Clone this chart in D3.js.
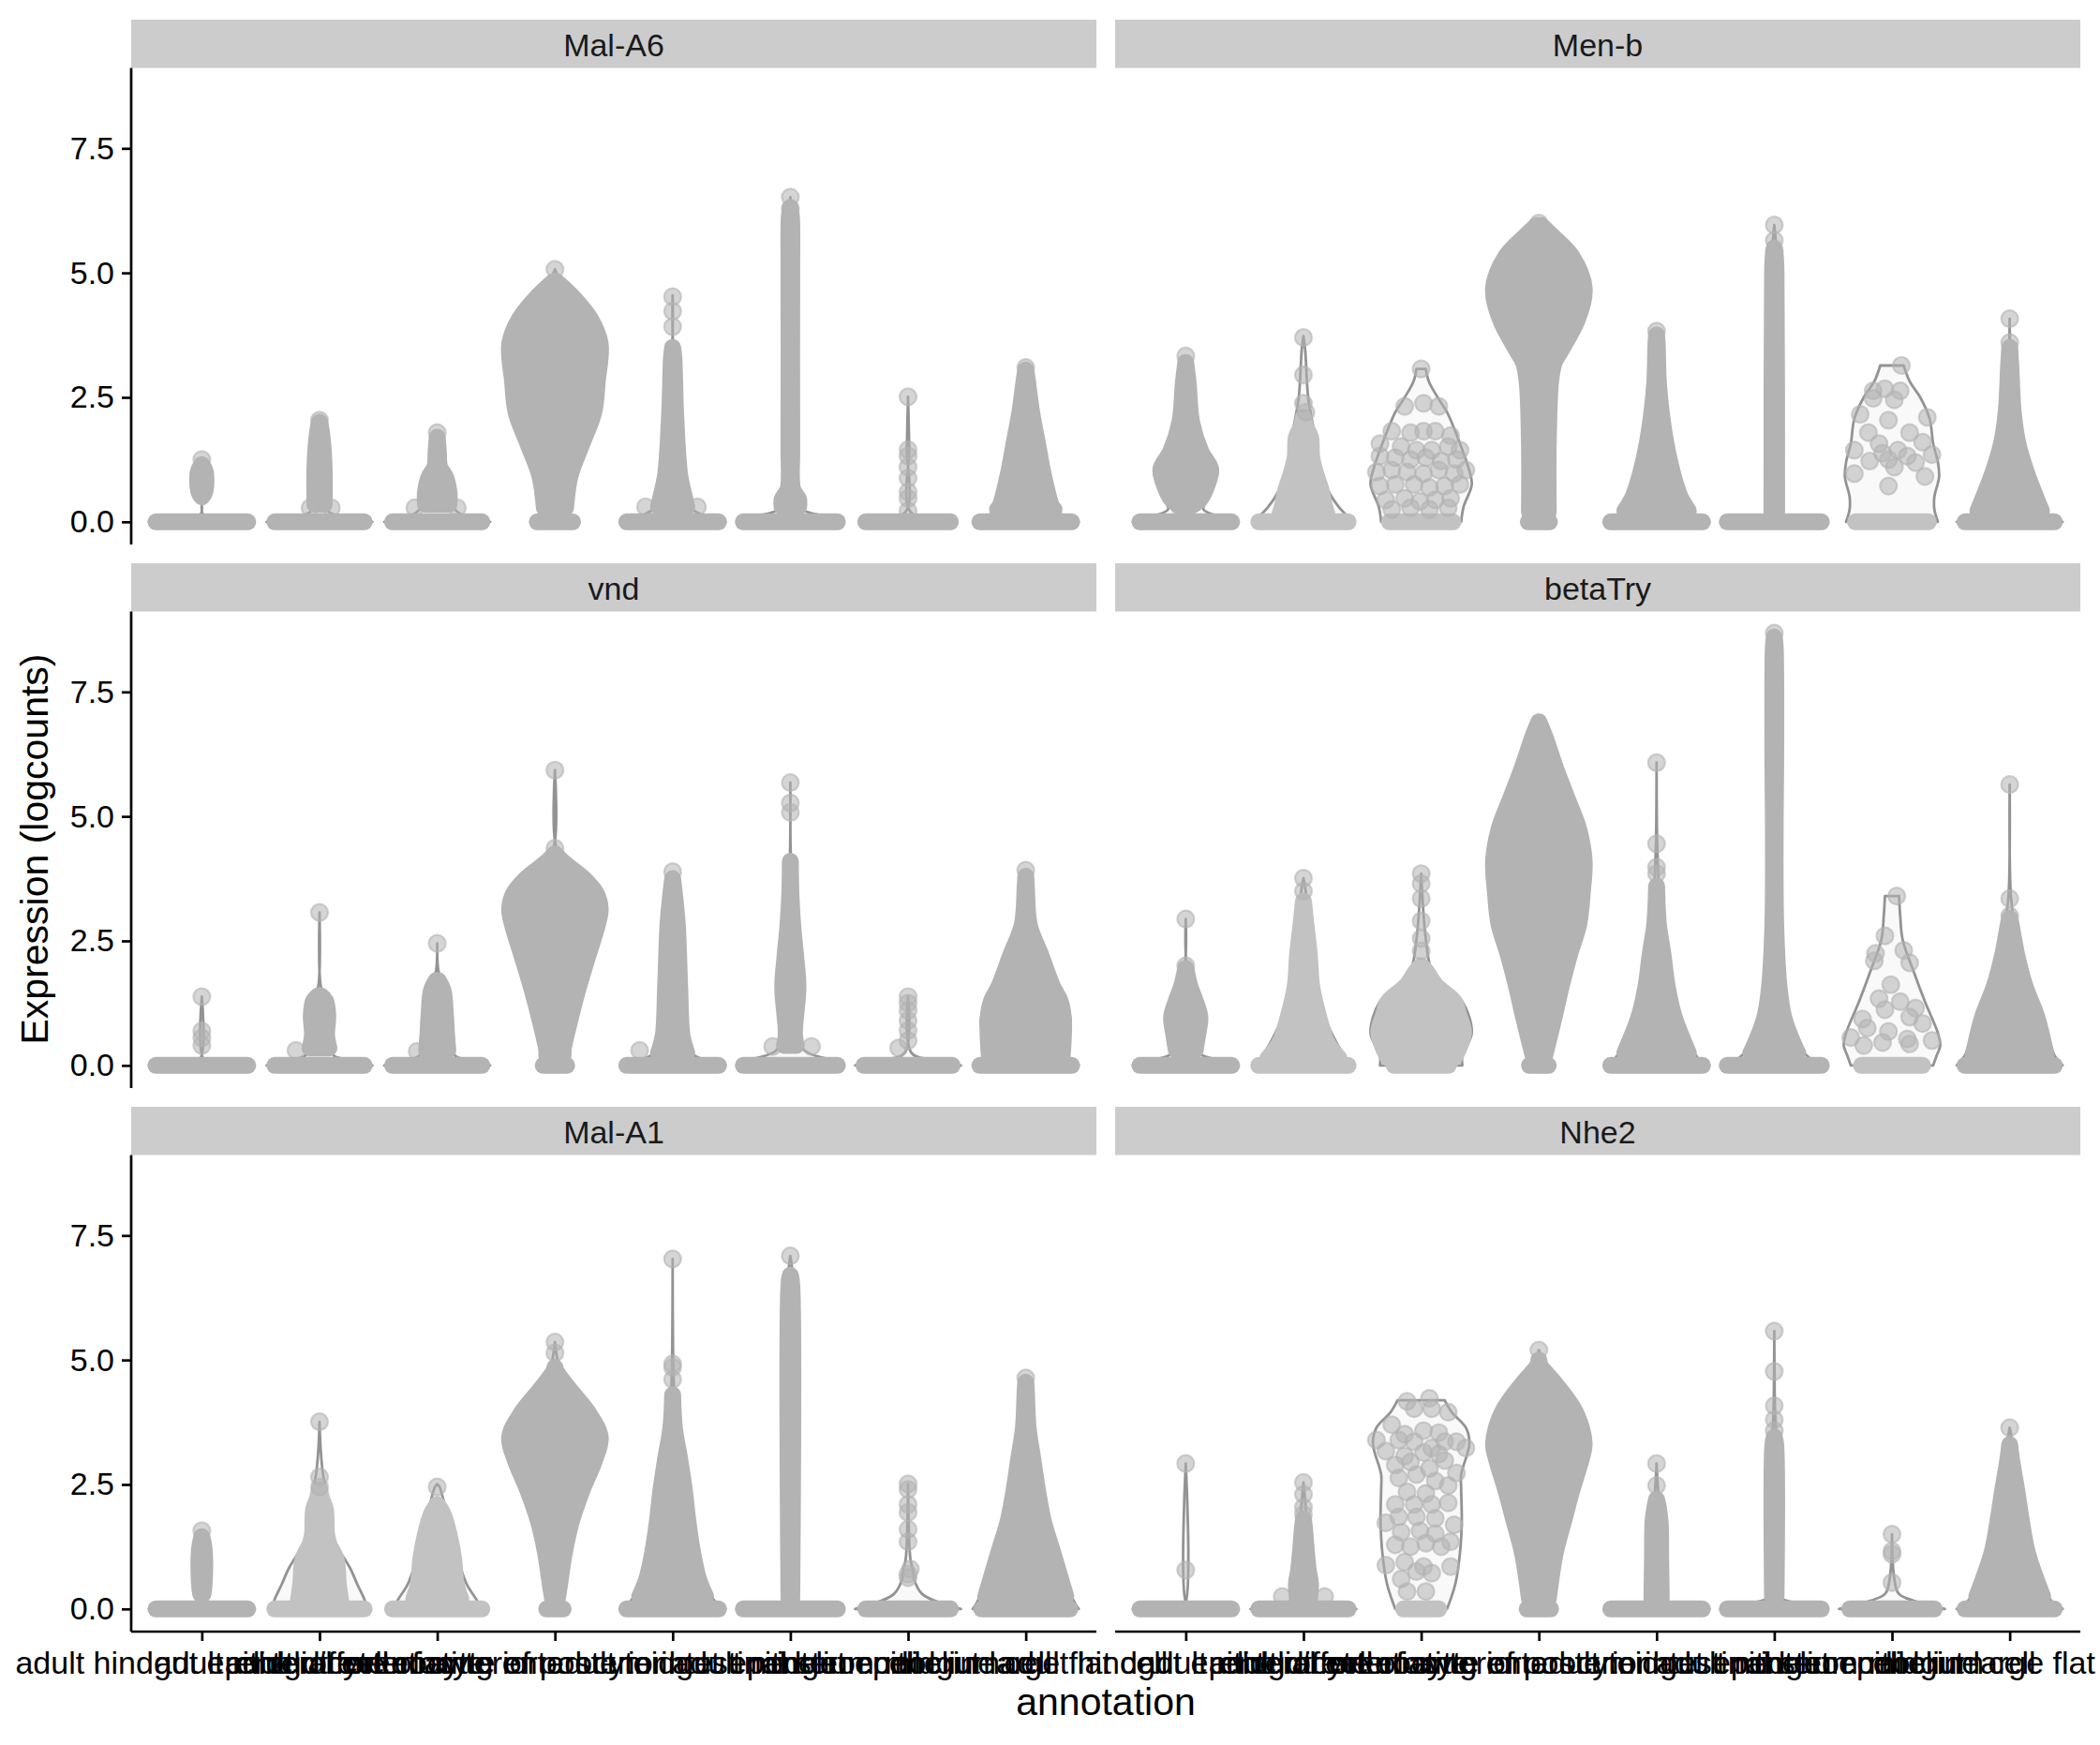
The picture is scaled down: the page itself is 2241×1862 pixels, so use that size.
<!DOCTYPE html>
<html><head><meta charset="utf-8">
<script src="https://cdn.jsdelivr.net/npm/d3@7"></script>
<style>body{margin:0;background:#fff}svg{display:block}text{font-family:"Liberation Sans",Arial,Helvetica,sans-serif}</style>
</head><body><svg id="chart" width="2241" height="1862"></svg>
<script>
// ---------------- data ----------------
const genes = ["Mal-A6", "Men-b", "vnd", "betaTry", "Mal-A1", "Nhe2"];
const categories = ["adult hindgut epithelial cell", "adult midgut enterocyte", "adult differentiating enterocyte",
  "enterocyte of anterior adult midgut epithelium", "enterocyte of posterior adult midgut epithelium",
  "intestinal stem cell", "enteroendocrine cell", "midgut large flat cell"];
const yTicks = [0, 2.5, 5, 7.5];
const yTickLabels = ["0.0", "2.5", "5.0", "7.5"];
const yLimits = [-0.455, 9.115];
const xTitle = "annotation";
const yTitle = "Expression (logcounts)";
// per violin: z = half width of the cloud of zero values (category units),
// s = envelope of the dense point cloud [value, half width], o = violin outline [value, half width],
// p = separate cells [value, offset], l = light (sparse) cloud
const malA6 = [
  {z:0.39, o:[[0,0.45],[0.08,0.1],[0.15,0.01],[0.45,0.01],[0.55,0.05],[0.9,0.06],[1.15,0.03],[1.25,0]], s:[[0.5,0],[0.6,0.025],[1.0,0.03],[1.15,0]], p:[[1.25,0]]},
  {z:0.38, o:[[0,0.45],[0.1,0.2],[0.2,0.08],[0.4,0.05],[1.0,0.05],[1.5,0.04],[2.0,0.01],[2.04,0]], s:[[0.35,0.04],[1.0,0.04],[1.5,0.03],[1.9,0.01],[2.0,0]], p:[[0.28,-0.08],[0.28,0.1],[2.04,0]]},
  {z:0.38, o:[[0,0.45],[0.1,0.25],[0.25,0.15],[0.5,0.13],[0.8,0.1],[1.1,0.03],[1.5,0.01],[1.79,0]], s:[[0.35,0.1],[0.6,0.1],[0.9,0.07],[1.1,0.02],[1.4,0.01],[1.7,0]], p:[[0.28,-0.19],[0.28,0.17],[1.79,0]]},
  {z:0.15, o:[[0,0.12],[0.15,0.08],[0.3,0.12],[0.94,0.15],[1.57,0.26],[2.2,0.37],[2.82,0.41],[3.58,0.44],[4.08,0.35],[4.52,0.19],[4.83,0.05],[5.07,0]], s:[[0.28,0.09],[0.94,0.13],[1.57,0.23],[2.2,0.33],[2.82,0.36],[3.58,0.384],[4.08,0.30],[4.52,0.15],[4.83,0.01]], p:[[5.07,0]]},
  {z:0.39, o:[[0,0.45],[0.1,0.3],[0.25,0.17],[0.6,0.12],[1.0,0.08],[2.2,0.04],[3.3,0.02],[3.6,0.003],[4.55,0]], s:[[0.3,0.12],[0.5,0.1],[0.94,0.06],[2.2,0.025],[3.3,0.01],[3.5,0]], p:[[0.3,-0.23],[0.3,0.21],[3.92,0],[4.23,0],[4.52,0]]},
  {z:0.40, o:[[0,0.45],[0.1,0.32],[0.25,0.1],[0.5,0.07],[0.7,0.02],[6.0,0.015],[6.52,0]], s:[[0.3,0.07],[0.45,0.07],[0.65,0.02],[1.5,0.012],[5,0.012],[6.1,0.01],[6.3,0]], p:[[6.3,0],[6.52,0]]},
  {z:0.36, o:[[0,0.3],[0.2,0.02],[1.5,0.01],[2.51,0]], s:[], p:[[0.22,0],[0.47,0],[0.6,0],[0.88,0],[1.1,0],[1.32,0],[1.45,0],[2.51,0]]},
  {z:0.39, o:[[0,0.45],[0.15,0.3],[0.3,0.26],[0.94,0.19],[1.57,0.13],[2.2,0.08],[2.82,0.04],[3.1,0]], s:[[0.25,0.24],[0.31,0.22],[0.94,0.15],[1.57,0.1],[2.2,0.05],[2.82,0.015],[3.05,0]], p:[[3.1,0]]}
];
const menB = [
  {z:0.39, o:[[0,0.45],[0.1,0.3],[0.25,0.15],[0.45,0.18],[0.8,0.25],[1.07,0.27],[1.4,0.17],[2.0,0.08],[2.8,0.04],[3.25,0.01],[3.33,0]], s:[[0.3,0.03],[0.45,0.12],[0.8,0.19],[1.07,0.21],[1.4,0.13],[2.0,0.05],[2.8,0.02],[3.2,0]], p:[[3.33,0],[0.3,-0.05]]},
  {z:0.38, l:1, o:[[0,0.43],[0.1,0.38],[0.3,0.3],[0.63,0.21],[1.25,0.13],[1.88,0.085],[2.5,0.04],[3.45,0.015],[3.73,0]], s:[[0.15,0.2],[0.3,0.18],[0.63,0.15],[1.0,0.1],[1.3,0.07],[1.7,0.06],[1.9,0.02],[2.1,0]], p:[[2.2,0.02],[2.38,0],[2.95,0],[3.7,0]]},
  {z:0.27, l:1, o:[[0,0.34],[0.3,0.36],[0.75,0.43],[1.1,0.4],[1.57,0.33],[2.2,0.22],[2.5,0.14],[2.82,0.065],[3.07,0.04]], s:[],
   p:[[3.07,0],[2.32,-0.14],[2.38,0.02],[2.32,0.15],[1.82,-0.25],[1.79,-0.09],[1.82,0.02],[1.82,0.12],[1.73,0.25],
      [1.57,-0.35],[1.51,-0.17],[1.44,-0.04],[1.44,0.09],[1.51,0.23],[1.44,0.33],[1.32,-0.35],[1.29,-0.22],[1.25,-0.09],
      [1.29,0.04],[1.22,0.17],[1.25,0.30],[1.0,-0.38],[1.04,-0.25],[1.0,-0.12],[0.97,0.02],[1.04,0.15],[0.97,0.28],
      [1.04,0.38],[0.72,-0.35],[0.75,-0.22],[0.75,-0.06],[0.69,0.07],[0.72,0.2],[0.75,0.33],[0.44,-0.3],[0.47,-0.14],
      [0.41,-0.01],[0.44,0.12],[0.47,0.25],[0.25,-0.25],[0.28,-0.09],[0.25,0.07],[0.28,0.23]]},
  {z:0.09, o:[[0,0.1],[0.2,0.1],[2.82,0.12],[3.45,0.23],[4.08,0.37],[4.7,0.44],[5.33,0.33],[5.77,0.15],[6.0,0]], s:[[0.2,0.08],[1.57,0.08],[2.82,0.1],[3.2,0.13],[3.45,0.19],[4.08,0.33],[4.7,0.385],[5.33,0.28],[5.77,0.1],[5.95,0.02]], p:[[6.0,0]]},
  {z:0.39, o:[[0,0.45],[0.15,0.33],[0.5,0.24],[0.94,0.18],[1.57,0.11],[2.2,0.07],[2.82,0.04],[3.83,0]], s:[[0.22,0.27],[0.5,0.2],[0.94,0.14],[1.57,0.08],[2.2,0.04],[2.82,0.015],[3.6,0.005],[3.75,0]], p:[[3.83,0]]},
  {z:0.40, o:[[0,0.45],[0.06,0.25],[0.15,0.05],[0.3,0.02],[5.5,0.015],[5.96,0]], s:[[0.2,0.02],[5.0,0.015],[5.3,0.01],[5.5,0]], p:[[5.05,0],[5.43,0],[5.65,0],[5.96,0]]},
  {z:0.31, l:1, o:[[0,0.39],[0.25,0.36],[0.5,0.36],[0.9,0.4],[1.2,0.39],[1.57,0.35],[2.07,0.32],[2.5,0.24],[2.82,0.15],[3.14,0.1]], s:[],
   p:[[3.14,0.08],[2.63,-0.16],[2.67,-0.06],[2.63,0.07],[2.48,-0.16],[2.45,0.02],[2.16,-0.27],[2.10,0.30],[2.04,-0.03],
      [1.79,-0.2],[1.79,0.15],[1.57,-0.11],[1.6,0.26],[1.44,-0.32],[1.44,0.05],[1.38,-0.08],[1.35,0.34],[1.22,-0.19],
      [1.25,-0.03],[1.19,0.2],[1.32,0.13],[1.10,0.02],[0.97,-0.32],[0.91,0.28],[0.72,-0.03]]},
  {z:0.38, o:[[0,0.45],[0.15,0.33],[0.94,0.19],[1.57,0.1],[2.2,0.06],[3.1,0.02],[3.5,0.005],[4.08,0]], s:[[0.22,0.27],[0.94,0.15],[1.57,0.07],[2.2,0.03],[3.1,0.01],[3.5,0]], p:[[3.6,0],[4.08,0]]}
];
const vnd = [
  {z:0.39, o:[[0,0.45],[0.05,0.1],[0.15,0.01],[1.38,0]], s:[], p:[[0.4,0],[0.55,0],[0.69,0],[1.38,0]]},
  {z:0.38, o:[[0,0.45],[0.1,0.3],[0.2,0.12],[0.5,0.09],[1.0,0.09],[1.4,0.04],[1.6,0.01],[3.07,0]], s:[[0.35,0.08],[0.6,0.06],[1.0,0.07],[1.3,0.05],[1.4,0.01]], p:[[0.3,-0.2],[3.07,0]]},
  {z:0.38, o:[[0,0.45],[0.1,0.3],[0.2,0.15],[0.6,0.11],[1.0,0.09],[1.6,0.05],[1.9,0.01],[2.45,0]], s:[[0.3,0.09],[0.6,0.08],[1.0,0.07],[1.5,0.05],[1.7,0.01]], p:[[0.28,-0.17],[2.45,0]]},
  {z:0.1, o:[[0,0.1],[0.3,0.1],[0.94,0.16],[1.57,0.24],[2.2,0.32],[2.82,0.41],[3.14,0.44],[3.45,0.4],[3.76,0.28],[4.08,0.1],[4.4,0.01],[5.93,0]], s:[[0.2,0.07],[0.31,0.07],[0.94,0.13],[1.57,0.2],[2.2,0.28],[2.82,0.36],[3.14,0.385],[3.45,0.35],[3.76,0.24],[4.08,0.07],[4.25,0]], p:[[4.36,0],[5.93,0]]},
  {z:0.39, o:[[0,0.45],[0.1,0.3],[0.25,0.16],[1.0,0.1],[2.82,0.07],[3.45,0.04],[3.89,0]], s:[[0.25,0.12],[0.6,0.08],[1.57,0.06],[2.82,0.04],[3.45,0.015],[3.75,0]], p:[[0.3,-0.28],[3.89,0]]},
  {z:0.40, o:[[0,0.45],[0.1,0.35],[0.3,0.12],[0.63,0.07],[1.57,0.1],[2.2,0.08],[2.82,0.05],[3.45,0.025],[4.1,0.005],[5.68,0]], s:[[0.4,0.05],[0.63,0.035],[1.57,0.065],[2.2,0.045],[2.82,0.02],[3.45,0.005],[4.1,0]], p:[[0.38,-0.15],[0.38,0.18],[5.08,0],[5.27,0],[5.68,0]]},
  {z:0.375, o:[[0,0.45],[0.1,0.25],[0.25,0.03],[1.38,0]], s:[], p:[[0.35,-0.08],[0.5,0],[0.7,0],[0.9,0],[1.1,0],[1.25,0],[1.38,0]]},
  {z:0.39, o:[[0,0.45],[0.15,0.36],[0.6,0.37],[0.94,0.38],[1.57,0.28],[2.2,0.17],[2.82,0.07],[3.45,0.03],[3.92,0]], s:[[0.2,0.31],[0.94,0.32],[1.3,0.29],[1.57,0.23],[2.2,0.13],[2.82,0.03],[3.6,0.005],[3.8,0]], p:[[3.92,0]]}
];
const betaTry = [
  {z:0.39, o:[[0,0.45],[0.1,0.3],[0.25,0.12],[0.97,0.15],[1.59,0.07],[2.0,0.01],[2.94,0]], s:[[0.3,0.08],[0.6,0.1],[0.97,0.12],[1.3,0.08],[1.59,0.035],[1.95,0]], p:[[2.0,0],[2.94,0]]},
  {z:0.38, l:1, o:[[0,0.4],[0.46,0.28],[0.97,0.18],[1.59,0.12],[2.22,0.08],[2.85,0.05],[3.48,0.02],[3.76,0]], s:[[0.15,0.3],[0.46,0.2],[0.97,0.13],[1.59,0.07],[2.22,0.05],[2.85,0.02],[3.3,0]], p:[[3.5,0],[3.76,0]]},
  {z:0.23, l:1, o:[[0,0.35],[0.2,0.35],[0.65,0.43],[1.28,0.35],[1.59,0.2],[1.9,0.09],[2.53,0.04],[3.85,0]], s:[[0.15,0.28],[0.65,0.36],[1.0,0.32],[1.28,0.28],[1.59,0.13],[1.9,0.04],[2.0,0]], p:[[2.3,0],[2.55,0],[2.9,0],[3.35,0],[3.65,0],[3.85,0]]},
  {z:0.08, o:[[0,0.08],[0.2,0.08],[0.97,0.17],[1.59,0.23],[2.22,0.3],[2.85,0.38],[4.1,0.44],[4.73,0.39],[5.36,0.28],[5.98,0.18],[6.61,0.09],[6.99,0]], s:[[0.2,0.05],[0.97,0.13],[1.59,0.19],[2.22,0.26],[2.85,0.34],[3.5,0.37],[4.1,0.385],[4.73,0.34],[5.36,0.24],[5.98,0.14],[6.61,0.05],[6.9,0]], p:[]},
  {z:0.39, o:[[0,0.45],[0.15,0.35],[0.97,0.19],[1.59,0.12],[2.22,0.09],[2.85,0.05],[3.6,0.02],[4.5,0.005],[6.08,0]], s:[[0.25,0.27],[0.97,0.15],[1.59,0.09],[2.22,0.055],[2.85,0.015],[3.6,0]], p:[[3.85,0],[3.98,0],[4.45,0],[6.08,0]]},
  {z:0.40, o:[[0,0.45],[0.15,0.3],[0.34,0.22],[0.97,0.11],[1.59,0.07],[2.85,0.03],[8.0,0.015],[8.68,0]], s:[[0.25,0.2],[0.34,0.18],[0.97,0.08],[1.59,0.04],[2.85,0.012],[5.0,0.008],[6,0.012],[8.4,0.008],[8.6,0]], p:[[8.68,0]]},
  {z:0.26, l:1, o:[[0,0.35],[0.2,0.38],[0.4,0.41],[0.65,0.39],[1.28,0.28],[1.91,0.18],[2.53,0.09],[3.0,0.07],[3.4,0.06]], s:[],
   p:[[3.40,0.04],[2.60,-0.06],[2.25,-0.14],[2.31,0.10],[2.10,-0.15],[2.06,0.15],[1.62,-0.01],[1.34,-0.11],[1.28,0.07],
      [1.15,0.2],[1.12,-0.06],[0.93,-0.25],[0.97,0.15],[0.84,0.26],[0.75,-0.21],[0.68,-0.03],[0.53,0.13],[0.56,-0.35],
      [0.46,-0.08],[0.50,0.34],[0.40,-0.24],[0.43,0.15]]},
  {z:0.38, o:[[0,0.45],[0.2,0.38],[0.97,0.28],[1.59,0.17],[2.22,0.09],[2.85,0.04],[3.4,0.01],[5.64,0]], s:[[0.2,0.31],[0.97,0.23],[1.59,0.13],[2.22,0.06],[2.85,0.01],[2.95,0]], p:[[3.0,0],[3.35,0],[5.64,0]]}
];
const malA1 = [
  {z:0.39, o:[[0,0.45],[0.06,0.15],[0.2,0.03],[1.0,0.04],[1.57,0]], s:[[0.3,0.01],[0.5,0.02],[1.2,0.02],[1.45,0]], p:[[1.57,0]]},
  {z:0.38, l:1, o:[[0,0.41],[0.2,0.38],[0.5,0.32],[0.82,0.26],[1.2,0.16],[1.44,0.1],[2.07,0.08],[2.7,0.03],[3.2,0.01],[3.76,0]], s:[[0.15,0.18],[0.5,0.16],[1.0,0.14],[1.3,0.08],[1.5,0.06],[2.0,0.05],[2.2,0.02],[2.4,0]], p:[[2.45,0],[2.65,0],[3.76,0]]},
  {z:0.38, l:1, o:[[0,0.38],[0.2,0.33],[0.5,0.25],[0.82,0.2],[1.44,0.14],[2.07,0.065],[2.45,0.02],[2.51,0]], s:[[0.2,0.2],[0.5,0.16],[1.0,0.14],[1.5,0.1],[1.9,0.05],[2.1,0]], p:[[2.45,0]]},
  {z:0.07, o:[[0,0.07],[0.25,0.03],[1.13,0.11],[1.76,0.18],[2.38,0.27],[3.01,0.38],[3.45,0.44],[3.95,0.32],[4.39,0.17],[4.77,0.05],[5.36,0]], s:[[0.2,0.02],[0.5,0.04],[1.13,0.08],[1.76,0.14],[2.38,0.23],[3.01,0.34],[3.45,0.385],[3.95,0.28],[4.39,0.13],[4.77,0.01],[4.85,0]], p:[[5.14,0],[5.36,0]]},
  {z:0.39, o:[[0,0.45],[0.15,0.36],[0.6,0.26],[1.13,0.21],[1.76,0.17],[2.38,0.14],[3.01,0.1],[3.64,0.05],[4.3,0.015],[5.0,0.005],[7.03,0]], s:[[0.25,0.28],[0.6,0.22],[1.13,0.17],[1.76,0.13],[2.38,0.1],[3.01,0.06],[3.64,0.015],[4.3,0]], p:[[4.61,0],[4.85,0],[4.92,0],[7.03,0]]},
  {z:0.40, o:[[0,0.45],[0.05,0.2],[0.15,0.02],[6.8,0.015],[7.09,0]], s:[[0.2,0.012],[6.5,0.012],[6.7,0]], p:[[6.62,0],[7.09,0]]},
  {z:0.36, o:[[0,0.45],[0.1,0.3],[0.3,0.12],[0.6,0.05],[0.8,0.04],[1.0,0.02],[2.51,0]], s:[], p:[[0.63,0],[0.7,0],[0.8,0.02],[1.35,0],[1.6,0],[1.94,0],[2.1,0],[2.4,0],[2.51,0]]},
  {z:0.375, o:[[0,0.45],[0.2,0.4],[1.13,0.28],[1.76,0.19],[2.38,0.14],[3.01,0.1],[3.64,0.05],[4.4,0.02],[4.64,0]], s:[[0.25,0.34],[1.13,0.23],[1.76,0.15],[2.38,0.1],[3.01,0.06],[3.64,0.02],[4.4,0.005],[4.55,0]], p:[[4.64,0]]}
];
const nhe2 = [
  {z:0.39, o:[[0,0.45],[0.03,0.05],[0.1,0.005],[2.92,0]], s:[], p:[[0.78,0],[2.92,0]]},
  {z:0.38, o:[[0,0.45],[0.05,0.2],[0.15,0.08],[0.8,0.06],[1.3,0.04],[2.0,0.02],[2.54,0]], s:[[0.2,0.05],[0.5,0.06],[0.8,0.04],[1.3,0.02],[1.6,0.01],[1.8,0]], p:[[0.25,-0.18],[0.25,0.18],[1.9,0],[2.04,0],[2.3,0],[2.54,0]]},
  {z:0.15, l:1, o:[[0,0.22],[0.5,0.29],[1.13,0.33],[1.76,0.345],[2.4,0.34],[2.7,0.34],[3.32,0.41],[3.64,0.38],[3.95,0.26],[4.19,0.2]], s:[],
   p:[[4.17,-0.12],[4.23,0.07],[4.02,-0.06],[4.02,0.09],[3.95,0.23],[3.70,-0.25],[3.51,-0.14],[3.58,0.02],[3.54,0.15],
      [3.36,0.30],[3.39,-0.38],[3.39,-0.19],[3.36,-0.06],[3.23,0.09],[3.36,0.2],[3.23,0.38],[3.17,-0.3],[3.07,-0.14],
      [3.14,0.02],[3.11,0.15],[2.89,-0.22],[2.95,-0.09],[2.82,0.07],[2.98,0.2],[2.73,0.3],[2.70,-0.04],[2.63,-0.19],
      [2.57,0.12],[2.35,-0.12],[2.32,0.04],[2.48,0.23],[2.10,-0.22],[2.10,-0.06],[2.10,0.09],[2.13,0.23],[1.85,-0.19],
      [1.85,-0.04],[1.82,0.12],[1.73,-0.3],[1.69,0.28],[1.54,-0.17],[1.57,-0.01],[1.51,0.12],[1.29,-0.22],[1.25,-0.09],
      [1.32,0.04],[1.25,0.17],[1.35,0.25],[0.88,-0.3],[0.94,-0.14],[0.85,0.02],[0.85,0.25],[0.60,-0.17],[0.75,-0.04],
      [0.72,0.09],[0.35,-0.12],[0.35,0.04]]},
  {z:0.1, o:[[0,0.1],[0.3,0.1],[1.13,0.17],[1.76,0.25],[2.38,0.32],[3.01,0.41],[3.32,0.44],[3.95,0.35],[4.52,0.18],[4.89,0.05],[5.2,0]], s:[[0.2,0.08],[1.13,0.14],[1.76,0.21],[2.38,0.28],[3.01,0.36],[3.32,0.385],[3.95,0.31],[4.52,0.14],[4.89,0.01],[5.0,0]], p:[[5.2,0]]},
  {z:0.39, o:[[0,0.45],[0.03,0.2],[0.1,0.06],[1.76,0.05],[2.2,0.02],[2.92,0]], s:[[0.2,0.04],[1.0,0.035],[1.76,0.03],[2.1,0.01],[2.2,0]], p:[[2.48,0],[2.92,0]]},
  {z:0.40, o:[[0,0.45],[0.1,0.25],[0.3,0.02],[3.4,0.015],[4.1,0.005],[5.58,0]], s:[[0.25,0.015],[3.3,0.012],[3.45,0]], p:[[3.58,0],[3.8,0],[4.08,0],[4.77,0],[5.58,0]]},
  {z:0.36, o:[[0,0.45],[0.1,0.28],[0.3,0.06],[0.6,0.02],[1.5,0]], s:[], p:[[0.53,0],[1.1,0],[1.16,0],[1.5,0]]},
  {z:0.38, o:[[0,0.45],[0.2,0.34],[1.13,0.19],[1.76,0.14],[2.38,0.1],[3.01,0.05],[3.64,0]], s:[[0.25,0.28],[1.13,0.15],[1.76,0.1],[2.38,0.06],[3.01,0.015],[3.3,0]], p:[[3.64,0]]}
];
const panelData = [malA6, menB, vnd, betaTry, malA1, nhe2];

// ---------------- layout ----------------
const svg = d3.select("#chart");
svg.append("rect").attr("width", 2241).attr("height", 1862).attr("fill", "#fff");
const colX = [140, 1190], panelW = 1030;
const rowTop = [21, 601, 1181], stripH = 51.5, panelH = 508.5;
const FS = 34, PR = 9;
const ptCol = "#b3b3b3", lightCol = "#c2c2c2", lineCol = "#939393";

genes.forEach((gene, gi) => {
  const col = gi % 2, row = Math.floor(gi / 2);
  const x0 = colX[col], top = rowTop[row] + stripH, bottom = top + panelH;
  const x = d3.scalePoint().domain(categories).range([x0, x0 + panelW]).padding(0.6);
  const y = d3.scaleLinear().domain(yLimits).range([bottom, top]);
  const step = x.step();
  const g = svg.append("g");

  // strip
  g.append("rect").attr("x", x0).attr("y", rowTop[row]).attr("width", panelW).attr("height", stripH).attr("fill", "#cccccc");
  g.append("text").attr("x", x0 + panelW / 2).attr("y", rowTop[row] + 38.5).attr("text-anchor", "middle")
    .attr("font-size", FS).attr("fill", "#1a1a1a").text(gene);

  const vg = g.append("g");
  panelData[gi].forEach((v, ci) => {
    const cx = x(categories[ci]);
    const cur = d3.curveCatmullRom.alpha(0.5);
    // violin outline
    const area = d3.area().curve(cur)
      .y(d => y(d[0])).x0(d => cx - d[1] * step).x1(d => cx + d[1] * step);
    vg.append("path").attr("d", area(v.o)).attr("fill", "#d9d9d9").attr("fill-opacity", 0.15)
      .attr("stroke", lineCol).attr("stroke-width", 2.8).attr("stroke-linejoin", "round");
    const c = v.l ? lightCol : ptCol;
    // zero-valued cells
    vg.append("line").attr("x1", cx - v.z * step).attr("x2", cx + v.z * step)
      .attr("y1", y(0)).attr("y2", y(0)).attr("stroke", c).attr("stroke-width", PR * 2).attr("stroke-linecap", "round");
    // dense cloud
    if (v.s.length) {
      vg.append("path").attr("d", area(v.s)).attr("fill", c).attr("stroke", c)
        .attr("stroke-width", PR * 2).attr("stroke-linejoin", "round").attr("stroke-linecap", "round");
    }
    // separate cells
    vg.selectAll(null).data(v.p).enter().append("circle")
      .attr("cx", d => cx + d[1] * step).attr("cy", d => y(d[0])).attr("r", PR)
      .attr("fill", ptCol).attr("fill-opacity", 0.55)
      .attr("stroke", ptCol).attr("stroke-opacity", 0.6).attr("stroke-width", 2.2);
  });

  // y axis (left column)
  if (col === 0) {
    const ax = g.append("g").attr("transform", `translate(${x0},0)`)
      .call(d3.axisLeft(y).tickValues(yTicks).tickFormat((d, i) => yTickLabels[i]).tickSizeOuter(0).tickSize(10).tickPadding(8));
    ax.select(".domain").attr("stroke", "#000").attr("stroke-width", 2.7).attr("d", `M0,${top}V${bottom}`);
    ax.selectAll(".tick line").attr("stroke", "#000").attr("stroke-width", 2.7);
    ax.selectAll(".tick text").attr("font-size", FS).attr("fill", "#000").attr("font-family", "Liberation Sans, Arial, sans-serif");
  }
  // x axis (bottom row)
  if (row === 2) {
    const ax = g.append("g").attr("transform", `translate(0,${bottom})`)
      .call(d3.axisBottom(x).tickSize(10).tickSizeOuter(0).tickPadding(8));
    ax.select(".domain").attr("stroke", "#000").attr("stroke-width", 2.7).attr("d", `M${x0},0H${x0 + panelW}`);
    ax.selectAll(".tick line").attr("stroke", "#000").attr("stroke-width", 2.7);
    ax.selectAll(".tick text").attr("font-size", FS).attr("fill", "#000").attr("dy", null).attr("y", 45)
      .attr("font-family", "Liberation Sans, Arial, sans-serif");
  }
});

// axis titles
svg.append("text").attr("x", 1180).attr("y", 1830).attr("text-anchor", "middle").attr("font-size", 41).attr("fill", "#000").text(xTitle);
svg.append("text").attr("transform", "translate(51,906) rotate(-90)").attr("text-anchor", "middle").attr("font-size", 41).attr("fill", "#000").text(yTitle);
</script></body></html>
